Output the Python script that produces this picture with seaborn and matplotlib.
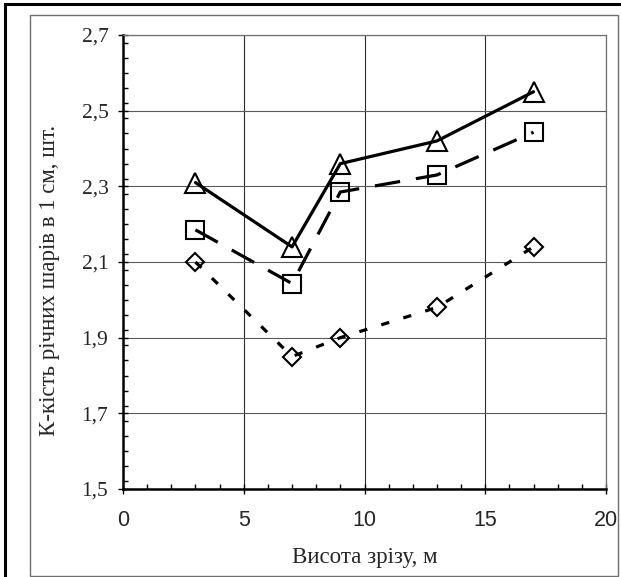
import matplotlib
matplotlib.use("Agg")
import matplotlib.pyplot as plt
import seaborn as sns
import pandas as pd
from matplotlib.patches import Rectangle
from matplotlib.ticker import MultipleLocator, FixedLocator

heights = [3, 7, 9, 13, 17]
series_triangle = [2.31, 2.14, 2.36, 2.42, 2.55]
series_square = [2.185, 2.043, 2.285, 2.33, 2.443]
series_diamond = [2.10, 1.85, 1.90, 1.98, 2.14]
xticks = [0, 5, 10, 15, 20]
yticks = [1.5, 1.7, 1.9, 2.1, 2.3, 2.5, 2.7]
ytick_labels = ["1,5", "1,7", "1,9", "2,1", "2,3", "2,5", "2,7"]
xlabel = "Висота зрізу, м"
ylabel = "К-кість річних шарів в 1 см, шт."

sns.set_theme(style="white")
plt.rcParams['font.family'] = ['Liberation Serif', 'DejaVu Serif']

W, H = 621, 577
fig = plt.figure(figsize=(W / 100, H / 100), dpi=100)

# outer frames
fig.patches.append(Rectangle((5 / W, -0.1), 1.2, (H - 4) / H + 0.1, transform=fig.transFigure,
                             fill=False, edgecolor='black', linewidth=2.2, zorder=0))
fig.patches.append(Rectangle((30 / W, 1 - 576 / H), (618 - 30) / W, (576 - 15) / H,
                             transform=fig.transFigure, fill=False, edgecolor='#6e6e6e',
                             linewidth=1.0, zorder=0))

left, right, top, bottom = 123, 606, 35, 489
ax = fig.add_axes([left / W, 1 - bottom / H, (right - left) / W, (bottom - top) / H])

df = pd.DataFrame({"x": heights, "tri": series_triangle, "sq": series_square, "dia": series_diamond})
lw = 2.3
common = dict(color='black', linewidth=lw, markerfacecolor='none', markeredgecolor='black',
              markeredgewidth=1.5, ax=ax, zorder=3, dash_capstyle='butt')
sns.lineplot(data=df, x="x", y="dia", marker='D', markersize=9.4, linestyle=(0, (2.6, 4.6)), **common)
sns.lineplot(data=df, x="x", y="sq", marker='s', markersize=12.5, linestyle=(0, (8.0, 5.0)), **common)
sns.lineplot(data=df, x="x", y="tri", marker='^', markersize=14, linestyle='-', **common)

ax.set_xlim(0, 20)
ax.set_ylim(1.5, 2.7)
ax.xaxis.set_major_locator(FixedLocator(xticks))
ax.xaxis.set_minor_locator(MultipleLocator(1))
ax.yaxis.set_major_locator(FixedLocator(yticks))
ax.yaxis.set_minor_locator(MultipleLocator(0.04))
ax.set_yticklabels(ytick_labels)
ax.set_xticklabels([str(v) for v in xticks])

ax.grid(True, which='major', axis='y', color='#5a5a5a', linewidth=0.8)
ax.grid(True, which='major', axis='x', color='#2a2a2a', linewidth=0.8)
ax.grid(False, which='minor')
ax.set_axisbelow(True)

for s in ['top', 'right']:
    ax.spines[s].set_color('#6e6e6e')
    ax.spines[s].set_linewidth(0.9)
for s in ['left', 'bottom']:
    ax.spines[s].set_color('black')
    ax.spines[s].set_linewidth(1.8)

ax.tick_params(axis='both', which='major', direction='inout', length=7, width=1.0, color='black',
               left=True, bottom=True)
ax.tick_params(axis='both', which='minor', direction='in', length=3.5, width=1.0, color='black',
               left=True, bottom=True)
ax.tick_params(axis='y', which='major', pad=7, labelsize=15.5)
ax.tick_params(axis='x', which='major', pad=11.5, labelsize=15.5)
for t in ax.get_xticklabels():
    t.set_fontfamily(['Liberation Sans', 'DejaVu Sans'])
for t in ax.get_yticklabels():
    t.set_fontfamily(['Liberation Serif', 'DejaVu Serif'])

ax.set_xlabel(xlabel, fontsize=16.5, family=['Liberation Serif', 'DejaVu Serif'])
ax.set_ylabel(ylabel, fontsize=16.5, family=['Liberation Serif', 'DejaVu Serif'])
ax.xaxis.set_label_coords(0.5, -0.128)
ax.yaxis.set_label_coords(-0.13, 0.46)
ax.set_facecolor('white')

fig.savefig("out.png", dpi=100, facecolor='white')
